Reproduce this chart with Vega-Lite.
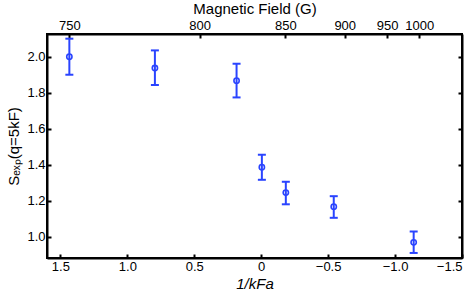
{
  "$schema": "https://vega.github.io/schema/vega-lite/v6.json",
  "width": 415,
  "height": 224,
  "autosize": {"type": "none"},
  "padding": {"left": 47, "top": 34, "right": 7, "bottom": 42},
  "config": {
    "font": "Liberation Sans",
    "view": {"stroke": "black", "strokeWidth": 2},
    "axis": {
      "domainColor": "black", "domainWidth": 2, "tickColor": "black", "tickWidth": 2,
      "tickSize": -4, "labelFontSize": 13, "labelColor": "black", "titleFontSize": 15,
      "titleFontWeight": "normal", "titleColor": "black", "grid": false, "labelPadding": 6
    }
  },
  "data": {"values": [
    {"invkfa": 1.433, "s": 2.0, "lo": 1.9, "hi": 2.1},
    {"invkfa": 0.794, "s": 1.937, "lo": 1.843, "hi": 2.035},
    {"invkfa": 0.184, "s": 1.867, "lo": 1.774, "hi": 1.961},
    {"invkfa": -0.005, "s": 1.387, "lo": 1.317, "hi": 1.456},
    {"invkfa": -0.184, "s": 1.246, "lo": 1.181, "hi": 1.306},
    {"invkfa": -0.542, "s": 1.168, "lo": 1.106, "hi": 1.226},
    {"invkfa": -1.139, "s": 0.97, "lo": 0.911, "hi": 1.03}
  ]},
  "layer": [
    {
      "mark": {"type": "errorbar", "ticks": {"size": 8, "thickness": 2, "color": "#2a44ff", "opacity": 1}, "rule": {"strokeWidth": 2, "color": "#2a44ff", "opacity": 1}},
      "encoding": {
        "x": {"field": "invkfa", "type": "quantitative",
          "scale": {"domain": [1.6, -1.5], "nice": false, "zero": false},
          "axis": {"orient": "bottom", "values": [1.5, 1.0, 0.5, 0, -0.5, -1.0, -1.5],
            "labelExpr": "datum.value == 0 ? '0' : format(datum.value, '.1f')",
            "title": "1/kFa", "titleFontStyle": "italic", "titlePadding": 3}},
        "y": {"field": "lo", "type": "quantitative",
          "scale": {"domain": [0.883, 2.126], "nice": false, "zero": false},
          "axis": {"orient": "left", "values": [1.0, 1.2, 1.4, 1.6, 1.8, 2.0], "format": ".1f",
            "title": "Sₑₓₚ(q=5kF)", "titlePadding": 5}},
        "y2": {"field": "hi"}
      }
    },
    {
      "mark": {"type": "point", "shape": "circle", "filled": false, "size": 28, "strokeWidth": 1.6, "color": "#2a44ff", "opacity": 1},
      "encoding": {
        "x": {"field": "invkfa", "type": "quantitative",
          "scale": {"domain": [1.6, -1.5], "nice": false, "zero": false},
          "axis": {"orient": "top", "values": [1.433, 0.46, -0.181, -0.624, -0.94, -1.181],
            "labelExpr": "datum.value > 1 ? '750' : datum.value > 0 ? '800' : datum.value > -0.4 ? '850' : datum.value > -0.8 ? '900' : datum.value > -1.05 ? '950' : '1000'",
            "title": "Magnetic Field (G)", "titlePadding": 3}},
        "y": {"field": "s", "type": "quantitative",
          "scale": {"domain": [0.883, 2.126], "nice": false, "zero": false},
          "axis": {"orient": "right", "values": [1.0, 1.2, 1.4, 1.6, 1.8, 2.0], "labels": false, "title": null}}
      }
    }
  ],
  "resolve": {"axis": {"x": "independent", "y": "independent"}}
}
